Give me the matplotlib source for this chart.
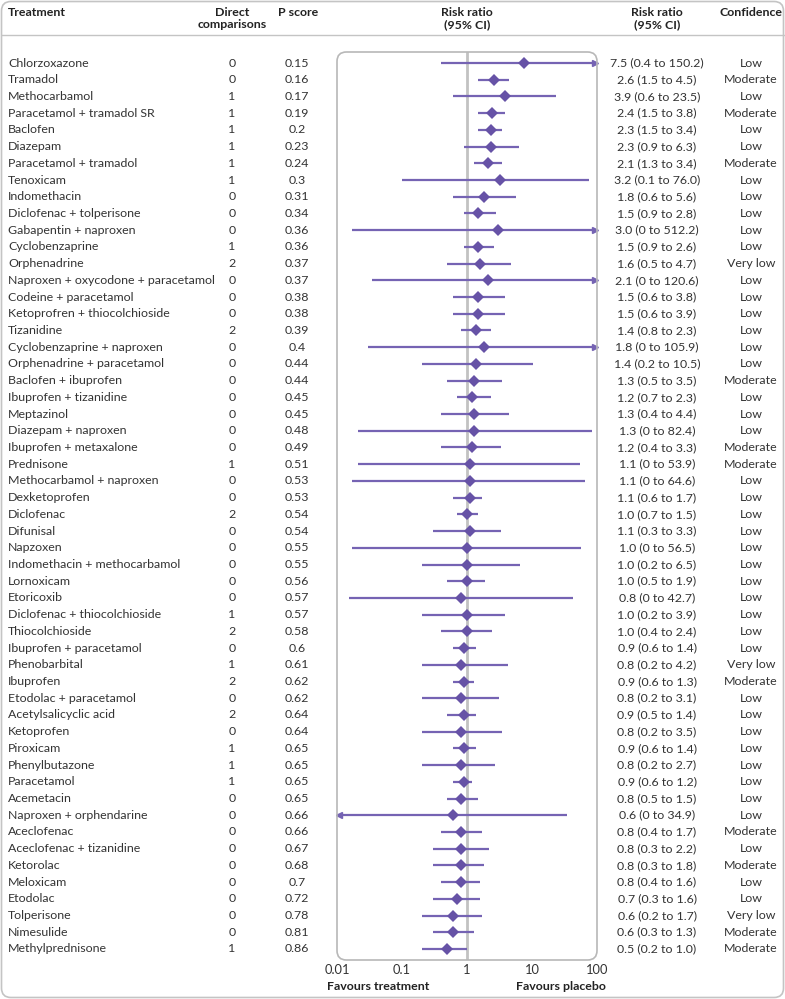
import numpy as np
import matplotlib
matplotlib.use('Agg')
from matplotlib import pyplot as plt
from matplotlib import transforms
from matplotlib.patches import FancyBboxPatch

treatments = [
    'Chlorzoxazone', 'Tramadol', 'Methocarbamol', 'Paracetamol + tramadol SR', 'Baclofen',
    'Diazepam', 'Paracetamol + tramadol', 'Tenoxicam', 'Indomethacin', 'Diclofenac + tolperisone',
    'Gabapentin + naproxen', 'Cyclobenzaprine', 'Orphenadrine', 'Naproxen + oxycodone + paracetamol',
    'Codeine + paracetamol', 'Ketoprofren + thiocolchioside', 'Tizanidine', 'Cyclobenzaprine + naproxen',
    'Orphenadrine + paracetamol', 'Baclofen + ibuprofen', 'Ibuprofen + tizanidine', 'Meptazinol',
    'Diazepam + naproxen', 'Ibuprofen + metaxalone', 'Prednisone', 'Methocarbamol + naproxen',
    'Dexketoprofen', 'Diclofenac', 'Difunisal', 'Napzoxen', 'Indomethacin + methocarbamol',
    'Lornoxicam', 'Etoricoxib', 'Diclofenac + thiocolchioside', 'Thiocolchioside',
    'Ibuprofen + paracetamol', 'Phenobarbital', 'Ibuprofen', 'Etodolac + paracetamol',
    'Acetylsalicyclic acid', 'Ketoprofen', 'Piroxicam', 'Phenylbutazone', 'Paracetamol',
    'Acemetacin', 'Naproxen + orphendarine', 'Aceclofenac', 'Aceclofenac + tizanidine',
    'Ketorolac', 'Meloxicam', 'Etodolac', 'Tolperisone', 'Nimesulide', 'Methylprednisone',
]
direct = [0, 0, 1, 1, 1, 1, 1, 1, 0, 0, 0, 1, 2, 0, 0, 0, 2, 0, 0, 0, 0, 0, 0, 0, 1, 0, 0,
          2, 0, 0, 0, 0, 0, 1, 2, 0, 1, 2, 0, 2, 0, 1, 1, 1, 0, 0, 0, 0, 0, 0, 0, 0, 0, 1]
p_score = ['0.15', '0.16', '0.17', '0.19', '0.2', '0.23', '0.24', '0.3', '0.31', '0.34', '0.36',
           '0.36', '0.37', '0.37', '0.38', '0.38', '0.39', '0.4', '0.44', '0.44', '0.45', '0.45',
           '0.48', '0.49', '0.51', '0.53', '0.53', '0.54', '0.54', '0.55', '0.55', '0.56', '0.57',
           '0.57', '0.58', '0.6', '0.61', '0.62', '0.62', '0.64', '0.64', '0.65', '0.65', '0.65',
           '0.65', '0.66', '0.66', '0.67', '0.68', '0.7', '0.72', '0.78', '0.81', '0.86']
rr = [7.5, 2.6, 3.9, 2.4, 2.3, 2.3, 2.1, 3.2, 1.8, 1.5, 3.0, 1.5, 1.6, 2.1, 1.5, 1.5, 1.4, 1.8,
      1.4, 1.3, 1.2, 1.3, 1.3, 1.2, 1.1, 1.1, 1.1, 1.0, 1.1, 1.0, 1.0, 1.0, 0.8, 1.0, 1.0, 0.9,
      0.8, 0.9, 0.8, 0.9, 0.8, 0.9, 0.8, 0.9, 0.8, 0.6, 0.8, 0.8, 0.8, 0.8, 0.7, 0.6, 0.6, 0.5]
ci_low = [0.4, 1.5, 0.6, 1.5, 1.5, 0.9, 1.3, 0.1, 0.6, 0.9, 0, 0.9, 0.5, 0, 0.6, 0.6, 0.8, 0,
          0.2, 0.5, 0.7, 0.4, 0, 0.4, 0, 0, 0.6, 0.7, 0.3, 0, 0.2, 0.5, 0, 0.2, 0.4, 0.6,
          0.2, 0.6, 0.2, 0.5, 0.2, 0.6, 0.2, 0.6, 0.5, 0, 0.4, 0.3, 0.3, 0.4, 0.3, 0.2, 0.3, 0.2]
ci_high = [150.2, 4.5, 23.5, 3.8, 3.4, 6.3, 3.4, 76.0, 5.6, 2.8, 512.2, 2.6, 4.7, 120.6, 3.8,
           3.9, 2.3, 105.9, 10.5, 3.5, 2.3, 4.4, 82.4, 3.3, 53.9, 64.6, 1.7, 1.5, 3.3, 56.5,
           6.5, 1.9, 42.7, 3.9, 2.4, 1.4, 4.2, 1.3, 3.1, 1.4, 3.5, 1.4, 2.7, 1.2, 1.5, 34.9,
           1.7, 2.2, 1.8, 1.6, 1.6, 1.7, 1.3, 1.0]
# lower ends as drawn in the plot where the printed bound rounds to 0
ci_low_drawn = {10: 0.017, 13: 0.034, 17: 0.030, 22: 0.021, 24: 0.021, 25: 0.017,
                29: 0.017, 32: 0.0153, 45: 0.005}
confidence = ['Low', 'Moderate', 'Low', 'Moderate', 'Low', 'Low', 'Moderate', 'Low', 'Low', 'Low',
              'Low', 'Low', 'Very low', 'Low', 'Low', 'Low', 'Low', 'Low', 'Low', 'Moderate', 'Low',
              'Low', 'Low', 'Moderate', 'Moderate', 'Low', 'Low', 'Low', 'Low', 'Low', 'Low', 'Low',
              'Low', 'Low', 'Low', 'Low', 'Very low', 'Moderate', 'Low', 'Low', 'Low', 'Low', 'Low',
              'Low', 'Low', 'Low', 'Moderate', 'Low', 'Moderate', 'Low', 'Low', 'Very low',
              'Moderate', 'Moderate']
xticks = [0.01, 0.1, 1, 10, 100]
xtick_labels = ['0.01', '0.1', '1', '10', '100']


def fmt(v):
    if v == 0:
        return '0'
    return f'{v:.1f}'


plt.rcParams['font.family'] = ['Lato', 'DejaVu Sans']
TXT = '#333333'
LINE = '#7563b3'
DIAM = '#6652a6'
GREY = '#b8b8b8'
FS = 8.9

W, H = 785, 999
fig = plt.figure(figsize=(W / 100, H / 100), dpi=100)

ax_left, ax_right, ax_top, ax_bot = 337, 597, 52, 960
ax = fig.add_axes([ax_left / W, 1 - ax_bot / H, (ax_right - ax_left) / W, (ax_bot - ax_top) / H])
n = len(treatments)
ax.set_xscale('log')
ax.set_xlim(0.01, 100)
ax.set_ylim(n - 1 + 0.66, -0.66)
for s in ax.spines.values():
    s.set_visible(False)
ax.set_yticks([])
ax.set_xticks(xticks)
ax.set_xticklabels(xtick_labels, fontsize=FS + 0.4, color=TXT)
ax.minorticks_off()
ax.tick_params(axis='x', length=0, pad=3)
ax.patch.set_visible(False)

# rounded plot frame
fig.patches.append(FancyBboxPatch((ax_left / W, 1 - ax_bot / H), (ax_right - ax_left) / W,
                                  (ax_bot - ax_top) / H, boxstyle='round,pad=0,rounding_size=0.012',
                                  mutation_aspect=W / H, transform=fig.transFigure, fill=False,
                                  edgecolor=GREY, linewidth=1.2))
# outer frame
fig.patches.append(FancyBboxPatch((1.5 / W, 1.5 / H), (W - 3) / W, (H - 3) / H,
                                  boxstyle='round,pad=0,rounding_size=0.012',
                                  mutation_aspect=W / H, transform=fig.transFigure, fill=False,
                                  edgecolor='#c4c4c4', linewidth=1.2))
fig.add_artist(plt.Line2D([1.5 / W, 1 - 1.5 / W], [1 - 35 / H, 1 - 35 / H], color='#c4c4c4',
                          linewidth=1.0, transform=fig.transFigure))

ax.axvline(1, color='#c2c2c2', linewidth=2, zorder=1)

for i in range(n):
    lo = ci_low_drawn.get(i, ci_low[i])
    hi = ci_high[i]
    lo_c = max(lo, 0.01)
    hi_c = min(hi, 100)
    ax.plot([lo_c, hi_c], [i, i], color=LINE, linewidth=1.6, solid_capstyle='butt', zorder=2)
    if hi > 100:
        ax.plot([93], [i], marker='>', markersize=4.5, color=LINE, clip_on=False, zorder=3)
    if lo < 0.01:
        ax.plot([0.0108], [i], marker='<', markersize=4.5, color=LINE, clip_on=False, zorder=3)
    ax.plot([rr[i]], [i], marker='D', markersize=5.8, color=DIAM, markeredgewidth=0, zorder=4)

# table columns
tr = transforms.blended_transform_factory(fig.transFigure, ax.transData)
for i in range(n):
    fig.text(8 / W, i, treatments[i], transform=tr, ha='left', va='center', fontsize=FS, color=TXT)
    fig.text(232 / W, i, str(direct[i]), transform=tr, ha='center', va='center', fontsize=FS, color=TXT)
    fig.text(297 / W, i, p_score[i], transform=tr, ha='center', va='center', fontsize=FS, color=TXT)
    ci_txt = f'{rr[i]:.1f} ({fmt(ci_low[i])} to {fmt(ci_high[i])})'
    fig.text(657 / W, i, ci_txt, transform=tr, ha='center', va='center', fontsize=FS, color=TXT)
    fig.text(751 / W, i, confidence[i], transform=tr, ha='center', va='center', fontsize=FS, color=TXT)

# headers
hdr = dict(fontsize=FS, color='#222222', fontweight='bold', va='center')
fig.text(8 / W, 1 - 12 / H, 'Treatment', ha='left', **hdr)
fig.text(232 / W, 1 - 18.5 / H, 'Direct\ncomparisons', ha='center', linespacing=1.15, **hdr)
fig.text(298 / W, 1 - 12 / H, 'P score', ha='center', **hdr)
fig.text(467 / W, 1 - 18.5 / H, 'Risk ratio\n(95% CI)', ha='center', linespacing=1.15, **hdr)
fig.text(657 / W, 1 - 18.5 / H, 'Risk ratio\n(95% CI)', ha='center', linespacing=1.15, **hdr)
fig.text(751 / W, 1 - 12 / H, 'Confidence', ha='center', **hdr)

fig.text(327 / W, 1 - 987 / H, 'Favours treatment', ha='left', **hdr)
fig.text(606 / W, 1 - 987 / H, 'Favours placebo', ha='right', **hdr)

fig.savefig('out.png', dpi=100, facecolor='w')
